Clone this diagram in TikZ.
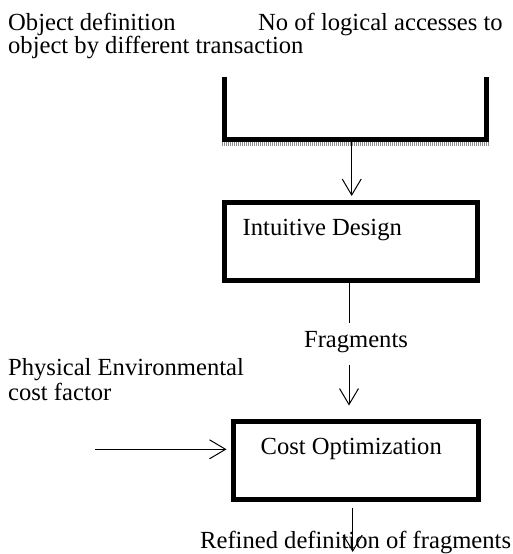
\documentclass[tikz,border=0pt]{standalone}
\usepackage{fontspec}
\setmainfont{Liberation Serif}
\usetikzlibrary{arrows.meta, positioning, math}
\definecolor{trayshade}{RGB}{140,140,140}

\tikzset{
  procbox/.style={draw, line width=5pt, inner sep=0pt, minimum height=78pt},
  flow/.style={line width=1pt, -{Straight Barb[length=16pt,width=19pt]}},
  txt/.style={inner sep=0pt, anchor=base west, align=left},
}

\begin{document}
\begin{tikzpicture}[x=1pt, y=-1pt, font=\fontsize{24.6}{23.3}\selectfont]
\tikzmath{
\tl=224;
\tr=486.7;
\tb=139;
}
\useasboundingbox (0,0) rectangle (513,554);

%inputs (base = last line)
\node[txt] (objtxt) at (8,53.3) {\makebox[250pt][l]{Object definition}No of logical accesses to\\object by different transaction};

%tray
\draw[line width=5pt] (\tl,77) -- (\tl,\tb) -- (\tr,\tb) -- (\tr,77);
\draw[trayshade, line width=4pt, dash pattern=on 1pt off 1pt] (\tl-2.5,\tb+5) -- (\tr+2.5,\tb+5);
\coordinate (tray) at (351.7,\tb);

%boxes
\node[procbox, minimum width=253.5pt] (design) at (350.75,241.5) {};
\node[txt] (designtxt) at ([xshift=21pt,yshift=-35.5pt]design.north west) {Intuitive Design};

\node[txt, anchor=base] (fragtxt) at (356,347) {Fragments};

\node[txt, font=\fontsize{24.6}{25}\selectfont] (phystxt) at (8,400) {Physical Environmental\\cost factor};
\coordinate (costin) at (95,449.3);

\node[procbox, minimum width=245.5pt] (costopt) at (355.75,460) {};
\node[txt] (costtxt) at ([xshift=30pt,yshift=-36pt]costopt.north west) {Cost Optimization};

\node[txt] (reftxt) at (200,548) {Refined definition of fragments};
\coordinate (refend) at (352.7,552);

%connectors
\draw[flow, shorten >=4pt] (tray) -- (tray |- design.north);
\draw[line width=1pt, shorten >=8pt] ([xshift=-1.75pt]design.south) -- ([xshift=-1.75pt]design.south |- fragtxt.north);
\draw[flow, shorten <=12pt, shorten >=13pt] ([xshift=-1.75pt]design.south |- fragtxt.south) -- ([xshift=-1.75pt]design.south |- costopt.north);
\draw[flow, shorten >=4pt] (costin) -- (costin -| costopt.west);
\draw[flow, shorten <=6pt] (costopt.south -| refend) -- (refend);

\end{tikzpicture}
\end{document}
